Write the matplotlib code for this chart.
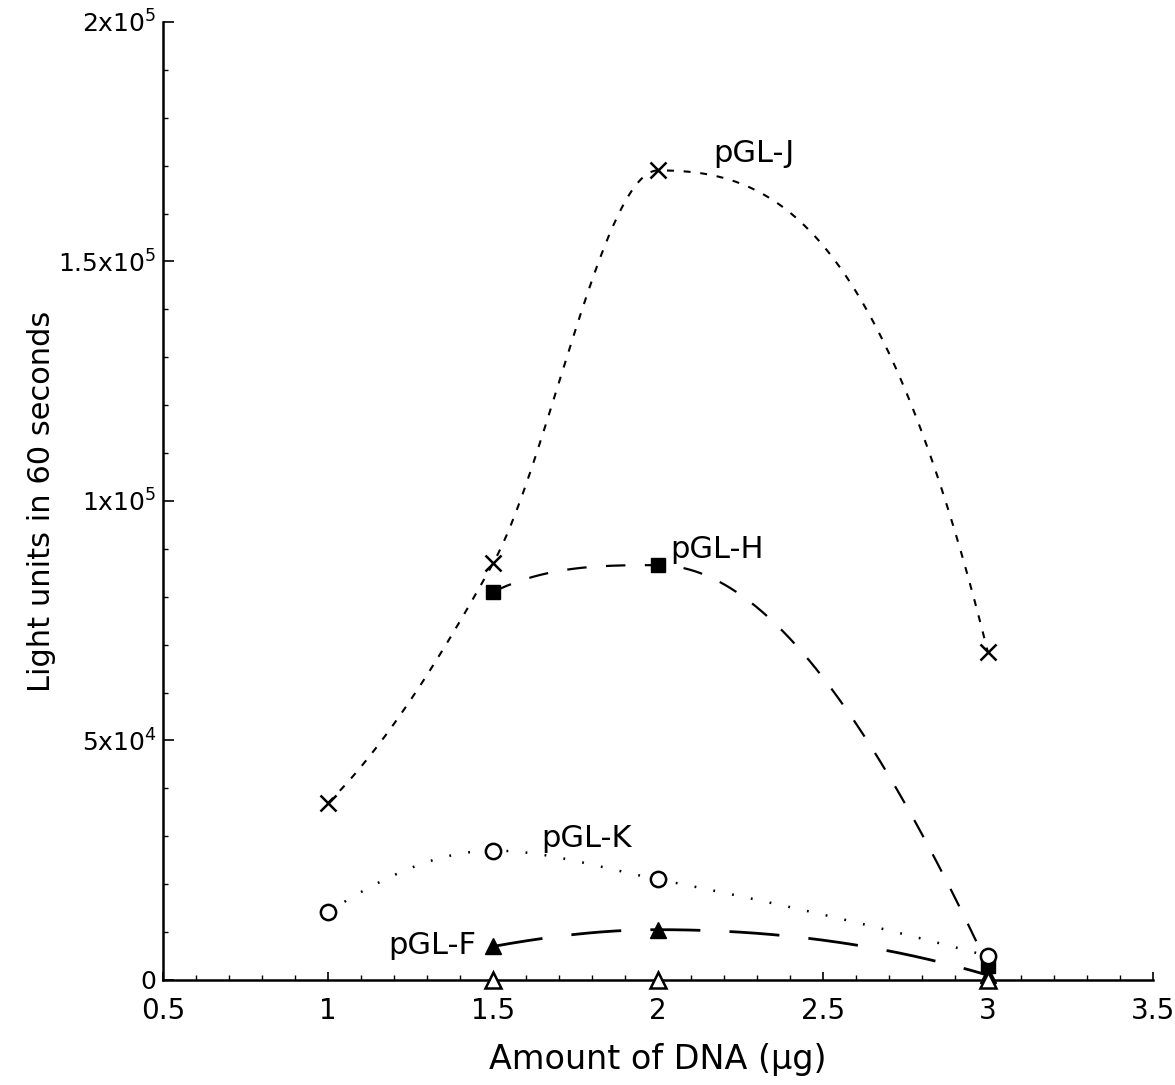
import numpy as np
import matplotlib
matplotlib.use('Agg')
import matplotlib.pyplot as plt
from matplotlib.ticker import MultipleLocator

plt.rcParams['font.family'] = ['DejaVu Sans']
plt.rcParams['mathtext.fontset'] = 'dejavusans'
plt.rcParams['mathtext.default'] = 'regular'
plt.rcParams['lines.scale_dashes'] = False

# values
dna_j = [1, 1.5, 2, 3]
light_j = [37000, 87000, 169000, 68500]
dna_h = [1.5, 2, 3]
light_h = [81000, 86600, 3000]
dna_k = [1, 1.5, 2, 3]
light_k = [14200, 27000, 21000, 5000]
dna_f = [1.5, 2, 3]
light_f = [7000, 10500, 1000]
dna_ctrl = [1.5, 2, 3]
light_ctrl = [0, 0, 0]

xticks = [0.5, 1, 1.5, 2, 2.5, 3, 3.5]
xtick_labels = ['0.5', '1', '1.5', '2', '2.5', '3', '3.5']
yticks = [0, 50000, 100000, 150000, 200000]
ytick_labels = ['0', '5x10$^4$', '1x10$^5$', '1.5x10$^5$', '2x10$^5$']


def smooth(x, y, n=300):
    # monotone cubic (pchip) curve through the points, like the original drawing
    x = np.asarray(x, float)
    y = np.asarray(y, float)
    h = np.diff(x)
    d = np.diff(y) / h
    m = np.zeros_like(y)
    for i in range(1, len(x) - 1):
        if d[i - 1] * d[i] > 0:
            w1 = 2 * h[i] + h[i - 1]
            w2 = h[i] + 2 * h[i - 1]
            m[i] = (w1 + w2) / (w1 / d[i - 1] + w2 / d[i])

    def end(h0, h1, d0, d1):
        s = ((2 * h0 + h1) * d0 - h0 * d1) / (h0 + h1)
        if np.sign(s) != np.sign(d0):
            s = 0
        elif np.sign(d0) != np.sign(d1) and abs(s) > 3 * abs(d0):
            s = 3 * d0
        return s

    m[0] = end(h[0], h[1], d[0], d[1])
    m[-1] = end(h[-1], h[-2], d[-1], d[-2])
    xs = np.linspace(x[0], x[-1], n)
    i = np.clip(np.searchsorted(x, xs) - 1, 0, len(h) - 1)
    t = (xs - x[i]) / h[i]
    ys = ((2 * t**3 - 3 * t**2 + 1) * y[i] + (t**3 - 2 * t**2 + t) * h[i] * m[i]
          + (-2 * t**3 + 3 * t**2) * y[i + 1] + (t**3 - t**2) * h[i] * m[i + 1])
    return xs, ys


fig = plt.figure(figsize=(11.75, 10.85), dpi=100)
ax = fig.add_axes([0.139, 0.0968, 0.842, 0.883])

# curves
xs, ys = smooth(dna_j, light_j)
ax.plot(xs, ys, color='black', lw=1.5, ls=(0, (5, 7)))
xs, ys = smooth(dna_h, light_h)
ax.plot(xs, ys, color='black', lw=1.6, ls=(0, (14, 14)))
xs, ys = smooth(dna_k, light_k)
ax.plot(xs, ys, color='black', lw=1.8, ls=(0, (1.3, 12.5)))
xs, ys = smooth(dna_f, light_f)
ax.plot(xs, ys, color='black', lw=2.0, ls=(0, (36, 21)))

# markers
ax.plot(dna_j, light_j, ls='none', marker='x', ms=11, mew=1.8, color='black', clip_on=False)
ax.plot(dna_h, light_h, ls='none', marker='s', ms=10, color='black', clip_on=False)
ax.plot(dna_k, light_k, ls='none', marker='o', ms=11, mew=1.8, mfc='white', color='black', clip_on=False)
ax.plot(dna_f, light_f, ls='none', marker='^', ms=11, color='black', clip_on=False)
ax.plot(dna_ctrl, light_ctrl, ls='none', marker='^', ms=11, mew=1.8, mfc='white', color='black',
        clip_on=False, zorder=5)

# curve labels
ax.text(2.167, 172500, 'pGL-J', fontsize=22, ha='left', va='center')
ax.text(2.036, 89800, 'pGL-H', fontsize=22, ha='left', va='center')
ax.text(1.645, 29600, 'pGL-K', fontsize=22, ha='left', va='center')
ax.text(1.448, 7300, 'pGL-F', fontsize=22, ha='right', va='center')

ax.set_xlim(0.5, 3.5)
ax.set_ylim(0, 200000)
ax.set_xticks(xticks)
ax.set_xticklabels(xtick_labels)
ax.set_yticks(yticks)
ax.set_yticklabels(ytick_labels)
ax.xaxis.set_minor_locator(MultipleLocator(0.1))
ax.yaxis.set_minor_locator(MultipleLocator(10000))
ax.tick_params(axis='x', which='major', direction='in', length=6, width=1.2, labelsize=20, pad=12)
ax.tick_params(axis='y', which='major', direction='in', length=8, width=1.2, labelsize=18, pad=5)
ax.tick_params(which='minor', direction='in', length=3.5, width=1.0)

for side in ['top', 'right']:
    ax.spines[side].set_visible(False)
for side in ['left', 'bottom']:
    ax.spines[side].set_linewidth(1.8)

ax.set_xlabel('Amount of DNA (µg)', fontsize=24)
ax.set_ylabel('Light units in 60 seconds', fontsize=22)
ax.xaxis.set_label_coords(0.5, -0.066)
ax.yaxis.set_label_coords(-0.108, 0.5)

fig.savefig('out.png', dpi=100)
